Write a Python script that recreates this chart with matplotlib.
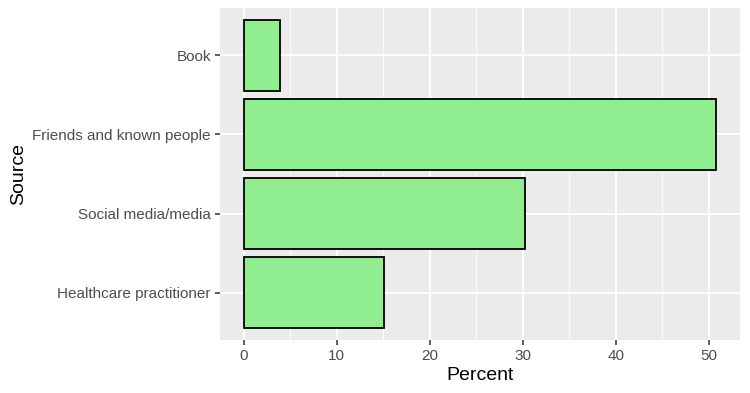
import matplotlib
matplotlib.use("Agg")
import matplotlib.pyplot as plt

categories = ["Healthcare practitioner", "Social media/media", "Friends and known people", "Book"]
percent = [15.1, 30.2, 50.8, 3.9]
xticks = [0, 10, 20, 30, 40, 50]

plt.rcParams['font.family'] = ['Liberation Sans', 'DejaVu Sans']

fig = plt.figure(figsize=(7.5, 3.93), dpi=100)
ax = fig.add_axes([220/750, 53/393, 520/750, 332/393])
ax.set_facecolor("#EBEBEB")

ypos = list(range(len(categories)))
ax.barh(ypos, percent, height=0.9, color="#90EE90", edgecolor="black", linewidth=1.3, zorder=3)

xmax = max(percent)
ax.set_xlim(-0.05 * xmax, xmax * 1.05)
ax.set_ylim(-0.6, len(categories) - 0.4)

ax.set_xticks(xticks)
ax.set_xticks([5, 15, 25, 35, 45], minor=True)
ax.set_yticks(ypos)
ax.set_yticklabels(categories)

ax.grid(which="major", color="white", linewidth=1.3, zorder=0)
ax.grid(which="minor", axis="x", color="white", linewidth=0.6, zorder=0)
ax.set_axisbelow(True)
for s in ax.spines.values():
    s.set_visible(False)

ax.tick_params(axis="both", which="major", length=3.5, width=1.1, color="#333333",
               labelcolor="#4D4D4D", labelsize=11, pad=3)
ax.tick_params(axis="both", which="minor", length=0)

ax.set_xlabel("Percent", fontsize=14, color="black", labelpad=3)
ax.set_ylabel("Source", fontsize=14, color="black", labelpad=4)

fig.savefig("out.png", dpi=100, facecolor="white")
